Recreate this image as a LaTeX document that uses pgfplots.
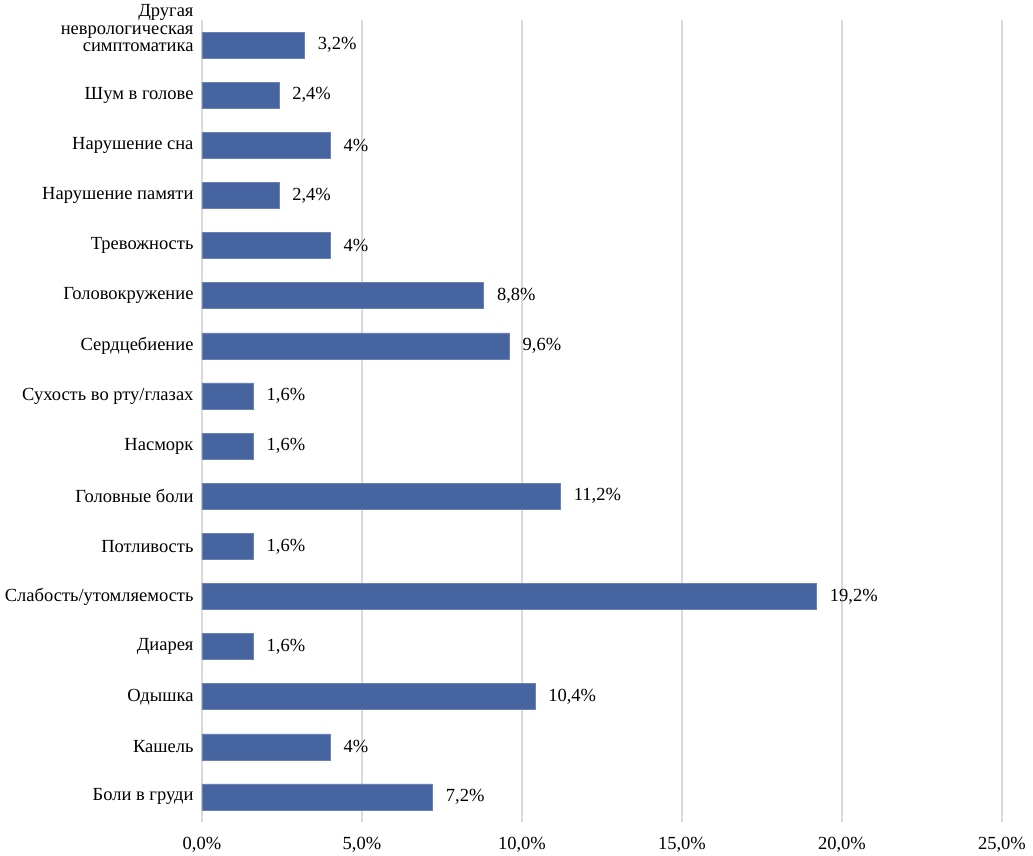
\documentclass[border=0pt]{standalone}
\usepackage{pgfplots}
\pgfplotsset{compat=1.18}
\usepackage{pgfplotstable}
\usepackage{fontspec}
\setmainfont{Liberation Serif}
\definecolor{barblue}{HTML}{4664A0}
\definecolor{gridgray}{HTML}{D9D9D9}
\pgfplotstableread[col sep=semicolon]{
y;v;lab
0;7.2;7,2\%
1;4;4\%
2;10.4;10,4\%
3;1.6;1,6\%
4;19.2;19,2\%
5;1.6;1,6\%
6;11.2;11,2\%
7;1.6;1,6\%
8;1.6;1,6\%
9;9.6;9,6\%
10;8.8;8,8\%
11;4;4\%
12;2.4;2,4\%
13;4;4\%
14;2.4;2,4\%
15;3.2;3,2\%
}\datatable
\begin{document}
\begin{tikzpicture}
\useasboundingbox (-202bp,-34bp) rectangle (831bp,822bp);
\begin{axis}[
  at={(0,0)}, anchor=south west,
  scale only axis, width=800bp, height=802bp,
  xmin=0, xmax=25, ymin=-0.5, ymax=15.5,
  xbar, bar width=26bp,
  axis line style={draw=none},
  major tick length=0pt,
  xmajorgrids, grid style={gridgray, line width=1.2bp},
  xtick={0,5,10,15,20,25},
  xticklabels={{0,0\%},{5,0\%},{10,0\%},{15,0\%},{20,0\%},{25,0\%}},
  xticklabel style={yshift=-12bp},
  ytick={0,...,14},
  yticklabels={Боли в груди,Кашель,Одышка,Диарея,Слабость/утомляемость,Потливость,Головные боли,Насморк,Сухость во рту/глазах,Сердцебиение,Головокружение,Тревожность,Нарушение памяти,Нарушение сна,Шум в голове},
  extra y ticks={15},
  extra y tick labels={{Другая\\неврологическая\\симптоматика}},
  extra y tick style={yticklabel style={yshift=17bp}},
  yticklabel style={align=right, xshift=-5bp},
  ticklabel style={font=\fontsize{18.5bp}{17.5bp}\selectfont},
  nodes near coords,
  point meta=explicit symbolic,
  every node near coord/.append style={font=\fontsize{18.5bp}{17.5bp}\selectfont, anchor=west, xshift=10bp},
]
\addplot[fill=barblue, draw=barblue!80!white] table[x=v, y=y, meta=lab] {\datatable};
\end{axis}
\end{tikzpicture}
\end{document}
